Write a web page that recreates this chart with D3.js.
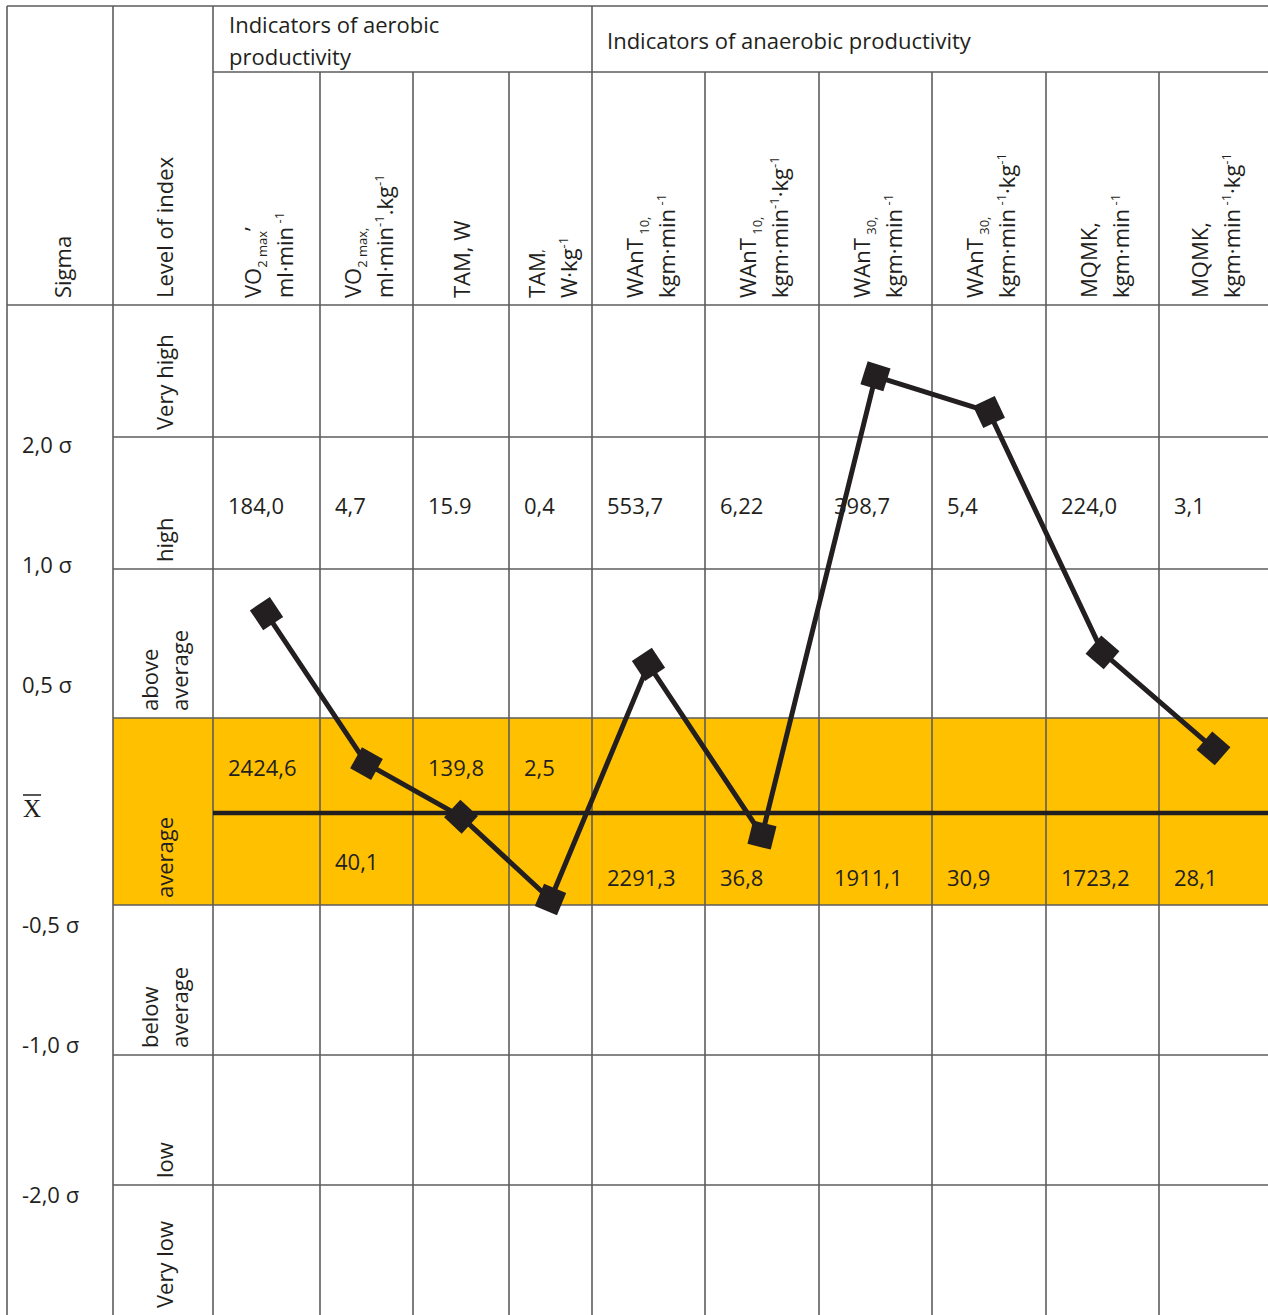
<!DOCTYPE html>
<html>
<head>
<meta charset="utf-8">
<script src="https://cdn.jsdelivr.net/npm/d3@7"></script>
<style>
  body { margin: 0; background: #fff; }
  svg { display: block; }
  text { font-family: "Open Sans", sans-serif; fill: #231f20; }
</style>
</head>
<body>
<svg id="chart" width="1268" height="1315"></svg>
<script>
// data
const indicators = ["VO2max", "VO2max_kg", "TAM", "TAM_kg", "WAnT10", "WAnT10_kg", "WAnT30", "WAnT30_kg", "MQMK", "MQMK_kg"];
const meanLabels = ["2424,6", "40,1", "139,8", "2,5", "2291,3", "36,8", "1911,1", "30,9", "1723,2", "28,1"];
const sdLabels = ["184,0", "4,7", "15.9", "0,4", "553,7", "6,22", "398,7", "5,4", "224,0", "3,1"];
const sigmaScores = [0.85, 0.26, -0.02, -0.47, 0.68, -0.12, 2.46, 2.19, 0.72, 0.34];
const meanSlot = ["upper", "lower", "upper", "upper", "bottom", "bottom", "bottom", "bottom", "bottom", "bottom"];

const levelNames = [["Very high"], ["high"], ["above", "average"], ["average"], ["below", "average"], ["low"], ["Very low"]];
const levelBounds = [3, 2, 1, 0.5, -0.5, -1, -2, -3];
const sigmaTicks = [2, 1, 0.5, 0, -0.5, -1, -2];
const sigmaTickLabels = ["2,0 σ", "1,0 σ", "0,5 σ", "X", "-0,5 σ", "-1,0 σ", "-2,0 σ"];

const groupTitles = [["Indicators of aerobic", "productivity"], ["Indicators of anaerobic productivity"]];
const headerLines = [
  [[["VO", "n"], ["2 max", "sub"], ["’", "n"]], [["ml·min", "n"], [" -1", "sup"]]],
  [[["VO", "n"], ["2 max,", "sub"]], [["ml·min", "n"], ["-1", "sup"], [".kg", "n"], ["-1", "sup"]]],
  [[["TAM, W", "n"]]],
  [[["TAM", "n"], ["’", "sub"]], [["W·kg", "n"], ["-1", "sup"]]],
  [[["WAnT", "n"], [" 10,", "sub"]], [["kgm·min", "n"], [" -1", "sup"]]],
  [[["WAnT", "n"], [" 10,", "sub"]], [["kgm·min", "n"], ["-1", "sup"], ["·kg", "n"], ["-1", "sup"]]],
  [[["WAnT", "n"], [" 30,", "sub"]], [["kgm·min", "n"], [" -1", "sup"]]],
  [[["WAnT", "n"], [" 30,", "sub"]], [["kgm·min", "n"], [" -1", "sup"], ["·kg", "n"], ["-1", "sup"]]],
  [[["MQMK,", "n"]], [["kgm·min", "n"], [" -1", "sup"]]],
  [[["MQMK,", "n"]], [["kgm·min", "n"], [" -1", "sup"], ["·kg", "n"], ["-1", "sup"]]]
];

// layout
const W = 1268, H = 1315;
const tableLeft = 7, tableTop = 6, sigmaColR = 113, levelColR = 213, groupSplit = 592, subHeadY = 72, headBottom = 305;
const colEdges = [213, 320, 413, 509, 592, 705, 819, 932, 1046, 1159, 1268];
const ink = "#231f20", gridColor = "#5d5d5d";

const svg = d3.select("#chart");

const x = d3.scaleOrdinal()
  .domain(indicators)
  .range(indicators.map((d, i) => (colEdges[i] + colEdges[i + 1]) / 2));
const colLeft = d3.scaleOrdinal().domain(indicators).range(colEdges.slice(0, -1));

// table rows are not evenly spaced in sigma, so piecewise
const y = d3.scaleLinear()
  .domain([-3, -2, -1, -0.5, 0, 0.5, 1, 2, 3])
  .range([1315, 1185, 1055, 905, 813, 718, 569, 437, 305]);
const yLabel = d3.scaleLinear()
  .domain([-2, -1, -0.5, 0, 0.5, 1, 2])
  .range([1195, 1045, 925, 805, 685, 565, 445]);

// yellow "average" band
svg.append("rect")
  .attr("x", sigmaColR).attr("y", y(0.5))
  .attr("width", W - sigmaColR).attr("height", y(-0.5) - y(0.5))
  .attr("fill", "#FFC000");

// grid
const grid = svg.append("g").attr("stroke", gridColor).attr("stroke-width", 1.6);
[tableLeft, sigmaColR, levelColR, groupSplit].forEach(xx =>
  grid.append("line").attr("x1", xx).attr("x2", xx).attr("y1", tableTop).attr("y2", H));
colEdges.slice(1, -1).filter(e => e !== groupSplit).forEach(xx =>
  grid.append("line").attr("x1", xx).attr("x2", xx).attr("y1", subHeadY).attr("y2", H));
grid.append("line").attr("x1", tableLeft).attr("x2", W).attr("y1", tableTop).attr("y2", tableTop);
grid.append("line").attr("x1", levelColR).attr("x2", W).attr("y1", subHeadY).attr("y2", subHeadY);
grid.append("line").attr("x1", tableLeft).attr("x2", W).attr("y1", headBottom).attr("y2", headBottom);
levelBounds.slice(1, -1).forEach(b =>
  grid.append("line").attr("x1", sigmaColR).attr("x2", W).attr("y1", y(b)).attr("y2", y(b)));

// header
const fs = 22;
function rotatedLabel(g, cx, baseY, lines, spacing) {
  const n = lines.length;
  lines.forEach((segs, li) => {
    const bx = cx + (li - (n - 1) / 2) * spacing + 8;
    const t = g.append("text")
      .attr("transform", `translate(${bx},${baseY}) rotate(-90)`)
      .attr("font-size", fs);
    let shift = 0;
    segs.forEach(([str, kind]) => {
      const target = kind === "sup" ? -9 : kind === "sub" ? 6 : 0;
      t.append("tspan")
        .attr("dy", target - shift)
        .attr("font-size", kind === "n" ? fs : 13)
        .text(str);
      shift = target;
    });
  });
}

const head = svg.append("g");
rotatedLabel(head, (tableLeft + sigmaColR) / 2 + 3, 298, [[["Sigma", "n"]]], 30);
rotatedLabel(head, (sigmaColR + levelColR) / 2 + 2, 298, [[["Level of index", "n"]]], 30);
indicators.forEach((d, i) => {
  const cx = x(d) + (headerLines[i].length > 1 ? 2 : 1);
  rotatedLabel(head, cx, 298, headerLines[i], 32);
});

groupTitles[0].forEach((s, i) =>
  head.append("text").attr("x", 229).attr("y", 33 + i * 32).attr("font-size", fs).text(s));
head.append("text").attr("x", 607).attr("y", 49).attr("font-size", fs).text(groupTitles[1][0]);

// level names
const levels = svg.append("g");
levelNames.forEach((lines, i) => {
  rotatedLabel(levels, (sigmaColR + levelColR) / 2 + 2, y(levelBounds[i + 1]) - 7,
    lines.map(s => [[s, "n"]]), 30);
});

// sigma labels
const sig = svg.append("g");
sigmaTicks.forEach((v, i) => {
  const t = sig.append("text")
    .attr("x", 22).attr("y", yLabel(v) + 8)
    .attr("font-size", fs)
    .text(sigmaTickLabels[i]);
  if (v === 0) {
    // mean symbol: serif X with a bar over it
    t.attr("x", 23).attr("y", yLabel(v) + 12)
      .style("font-family", "'Liberation Serif', 'DejaVu Serif', serif")
      .attr("font-size", 25);
    const bb = t.node().getBBox();
    sig.append("line")
      .attr("x1", bb.x).attr("x2", bb.x + bb.width)
      .attr("y1", yLabel(v) - 10).attr("y2", yLabel(v) - 10)
      .attr("stroke", ink).attr("stroke-width", 1.5);
  }
});

// cell values
const vals = svg.append("g").attr("font-size", fs);
indicators.forEach((d, i) => {
  vals.append("text").attr("x", colLeft(d) + 15).attr("y", 514).text(sdLabels[i]);
  const off = meanSlot[i] === "upper" ? -45 : meanSlot[i] === "lower" ? 49 : 65;
  vals.append("text").attr("x", colLeft(d) + 15).attr("y", y(0) + off + 8).text(meanLabels[i]);
});

// mean line
svg.append("line")
  .attr("x1", levelColR).attr("x2", W)
  .attr("y1", y(0)).attr("y2", y(0))
  .attr("stroke", ink).attr("stroke-width", 4.5);

// profile line
const pts = indicators.map((d, i) => [x(d), y(sigmaScores[i])]);
svg.append("path")
  .attr("d", d3.line()(pts))
  .attr("fill", "none")
  .attr("stroke", ink).attr("stroke-width", 5)
  .attr("stroke-linejoin", "round");

svg.append("g").selectAll("rect")
  .data(pts)
  .join("rect")
  .attr("x", -12).attr("y", -12).attr("width", 24).attr("height", 24)
  .attr("fill", ink)
  .attr("transform", (p, i) => {
    const a = pts[i + 1] || p, b = pts[i + 1] ? p : pts[i - 1];
    const ang = Math.atan2(a[1] - b[1], a[0] - b[0]) * 180 / Math.PI;
    return `translate(${p[0]},${p[1]}) rotate(${ang})`;
  });
</script>
</body>
</html>
